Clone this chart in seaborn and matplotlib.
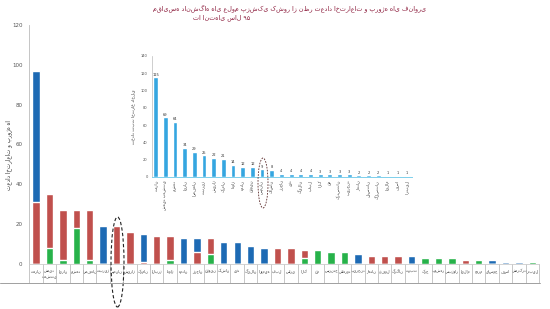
import numpy as np
import pandas as pd
import matplotlib
matplotlib.use("Agg")
import matplotlib.pyplot as plt
from matplotlib.patches import Ellipse
from matplotlib.lines import Line2D
import seaborn as sns

# ---------------- data ----------------
universities = ["تهران", "شهید\nبهشتی", "ایران", "مشهد", "اصفهان", "تبریز", "سمنان",
                "شیراز", "کرمان", "البرز", "اهواز", "همدان", "زنجان", "قزوین",
                "کاشان", "یزد", "گیلان", "ارومیه", "بابل", "ساری", "اراک", "قم",
                "سنندج", "شاهرود", "بیرجند", "زاهدان", "دزفول", "گرگان", "تربت",
                "کرج", "بوشهر", "سبزوار", "ایلام", "جهرم", "یاسوج", "فسا",
                "شهرکرد", "اردبیل"]
green_vals = [0, 8, 2, 18, 2, 0, 0, 0, 0, 0, 2, 0, 0, 5, 0, 0, 0, 0, 0, 0,
              3, 7, 6, 6, 0, 0, 0, 0, 0, 3, 3, 3, 0, 2, 0, 0, 0, 1]
red_vals = [31, 27, 25, 9, 25, 0, 19, 16, 1, 14, 12, 0, 6, 8, 0, 0, 0, 0, 8, 8,
            4, 0, 0, 0, 0, 4, 4, 4, 0, 0, 0, 0, 2, 0, 0, 0, 0, 0]
blue_vals = [66, 0, 0, 0, 0, 19, 0, 0, 14, 0, 0, 13, 7, 0, 11, 11, 9, 8, 0, 0,
             0, 0, 0, 0, 5, 0, 0, 0, 4, 0, 0, 0, 0, 0, 2, 1, 1, 0]
main_yticks = [0, 20, 40, 60, 80, 100, 120]

inset_names = ["تهران", "شهید بهشتی", "مشهد", "ایران", "اصفهان", "تبریز", "شیراز",
               "کرمان", "اهواز", "همدان", "قزوین", "سمنان", "کاشان", "زنجان", "یزد",
               "گیلان", "بابل", "اراک", "قم", "کردستان", "بیرجند", "زاهدان", "لرستان",
               "گلستان", "ایلام", "فسا", "اردبیل"]
inset_vals = [115, 69, 64, 34, 29, 25, 22, 21, 14, 12, 12, 9, 8, 4, 4, 4, 4,
              3, 3, 3, 3, 2, 2, 2, 1, 1, 1]
inset_yticks = [0, 20, 40, 60, 80, 100, 120, 140]

title_line1 = "مقایسه دانشگاه های علوم پزشکی کشور از نظر تعداد اختراعات و پروژه های فناوری"
title_line2 = "تا انتهای سال ۹۵"
main_ylabel = "تعداد اختراعات و پروژه ها"
inset_ylabel = "تعداد ثبت اختراع داخلی"

# ---------------- style ----------------
sns.set_style("white")
plt.rcParams['font.family'] = ['DejaVu Sans']

BLUE = "#1d6ab4"
RED = "#c0504d"
GREEN = "#27b24a"
LIGHTBLUE = "#35a6e0"

W, H = 550, 309
fig = plt.figure(figsize=(W / 100, H / 100), dpi=100)

# ---------------- main chart ----------------
ax_w = 539 - 29.3
ax_h = 264 - 25
ax = fig.add_axes([29.3 / W, (H - 264) / H, ax_w / W, ax_h / H])
df = pd.DataFrame({"uni": universities,
                   "green": green_vals, "red": red_vals, "blue": blue_vals})
df["top"] = df["green"] + df["red"] + df["blue"]
df["mid"] = df["green"] + df["red"]

for col, c in [("top", BLUE), ("mid", RED), ("green", GREEN)]:
    sns.barplot(data=df, x="uni", y=col, order=universities, color=c,
                saturation=1, width=0.55, ax=ax, errorbar=None)

ax.set_xlim(-0.5, len(universities) - 0.5)
ax.set_ylim(0, 120)
ax.set_yticks(main_yticks)
ax.set_yticklabels([str(v) for v in main_yticks], fontsize=4, color="#555555")
ax.tick_params(axis='y', length=0, pad=5)
ax.set_xticks(range(len(universities)))
ax.set_xticklabels(universities, fontsize=2.6, color="#333333", linespacing=1.6)
ax.tick_params(axis='x', length=0, pad=4)
ax.set_xlabel("")
ax.set_ylabel(main_ylabel, fontsize=4, color="#333333")
ax.yaxis.set_label_coords(-(29.3 - 12) / ax_w, (264 - 155) / ax_h)
for s in ["top", "right"]:
    ax.spines[s].set_visible(False)
ax.spines["left"].set_color("#bbbbbb")
ax.spines["left"].set_linewidth(0.6)
ax.spines["bottom"].set_color("#cccccc")
ax.spines["bottom"].set_linewidth(0.6)

# category table under the bars
for xs in np.arange(-0.5, len(universities), 1.0):
    ax.plot([xs, xs], [0, -9.5], color="#b0b0b0", lw=0.5, clip_on=False)
fig.add_artist(Line2D([0, 540 / W], [(H - 283) / H] * 2, color="#a0a0a0",
                      lw=0.7, transform=fig.transFigure))

# ---------------- inset chart ----------------
ax2 = fig.add_axes([152 / W, (H - 177) / H, (412 - 152) / W, (177 - 55.7) / H])
dfi = pd.DataFrame({"uni": inset_names, "val": inset_vals})
sns.barplot(data=dfi, x="uni", y="val", order=inset_names, color=LIGHTBLUE,
            saturation=1, width=0.5, ax=ax2, errorbar=None)
for cont in ax2.containers:
    ax2.bar_label(cont, labels=[str(v) for v in inset_vals], fontsize=2.6,
                  color="#333333", padding=0.5)
ax2.set_xlim(-0.38, len(inset_names) - 0.5)
ax2.set_ylim(0, 140)
ax2.set_yticks(inset_yticks)
ax2.set_yticklabels([str(v) for v in inset_yticks], fontsize=2.6, color="#555555")
ax2.tick_params(axis='y', length=0, pad=3)
ax2.set_xticks(range(len(inset_names)))
ax2.set_xticklabels(inset_names, fontsize=2.8, rotation=90, color="#333333")
ax2.tick_params(axis='x', length=0, pad=2)
ax2.set_xlabel("")
ax2.set_ylabel(inset_ylabel, fontsize=3.2, color="#333333", labelpad=4)
ax2.patch.set_alpha(0)
for s in ["top", "right"]:
    ax2.spines[s].set_visible(False)
ax2.spines["left"].set_color("#bbbbbb")
ax2.spines["left"].set_linewidth(0.5)
ax2.spines["bottom"].set_color("#7fd0ec")
ax2.spines["bottom"].set_linewidth(0.7)

# ---------------- highlight ellipses ----------------
fig.add_artist(Ellipse((117.5 / W, 1 - 262 / H), 13 / W, 90 / H, fill=False,
                       ls=(0, (3, 2)), lw=0.8, edgecolor="#222222",
                       transform=fig.transFigure))
fig.add_artist(Ellipse((263 / W, 1 - 183 / H), 10 / W, 50 / H, fill=False,
                       ls=(0, (2, 1.5)), lw=0.6, edgecolor="#5a2a2a",
                       transform=fig.transFigure))

# ---------------- title ----------------
fig.text(290 / W, 1 - 8 / H, title_line1, fontsize=4.6, color="#8b1a3a",
         ha="center", va="center")
fig.text(222 / W, 1 - 18 / H, title_line2, fontsize=4.6, color="#8b1a3a",
         ha="center", va="center")

fig.savefig("out.png", dpi=100)
